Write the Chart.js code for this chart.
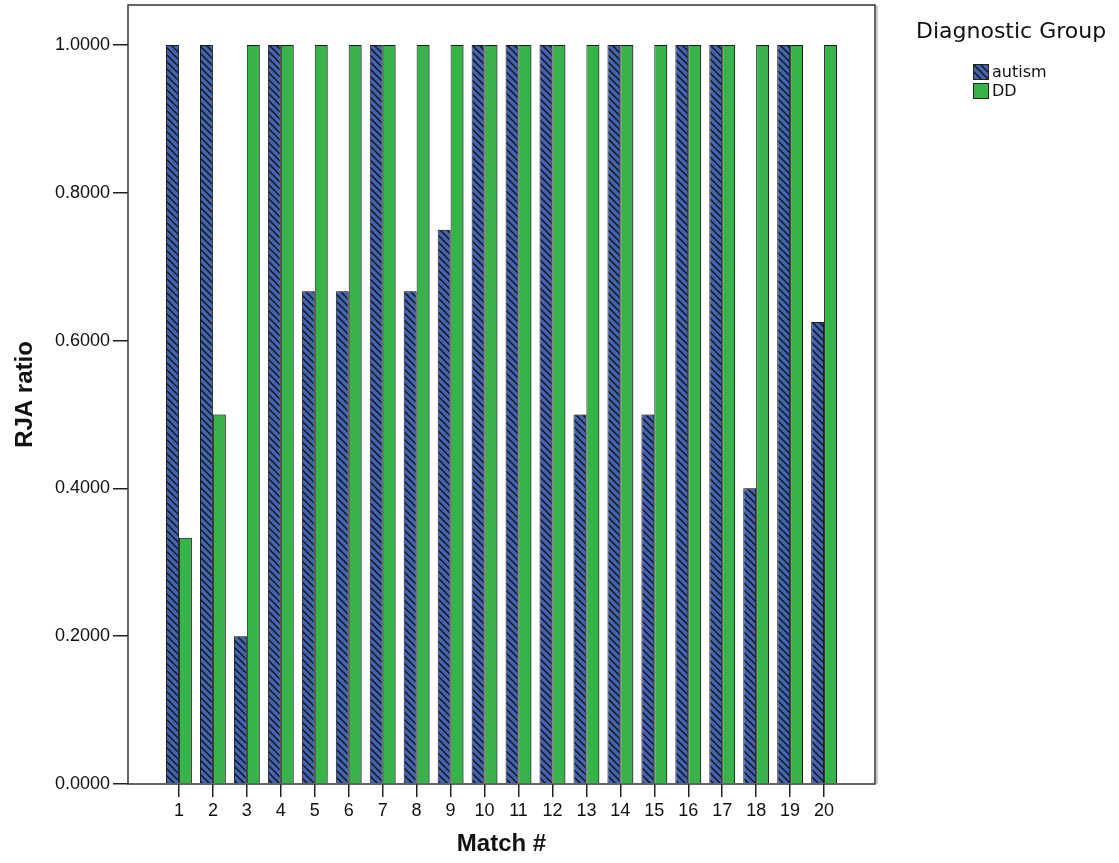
<!DOCTYPE html>
<html>
<head>
<meta charset="utf-8">
<script src="https://cdn.jsdelivr.net/npm/chart.js@4.4.1/dist/chart.umd.min.js"></script>
<style>
  html, body { margin: 0; padding: 0; background: #fff; }
  #wrap { position: relative; width: 1119px; height: 863px; }
  .legend { position: absolute; left: 916px; top: 17px; font-family: 'DejaVu Sans', sans-serif; color: #111; }
  .legend .title { font-size: 22px; line-height: 28px; white-space: nowrap; }
  .legend .item { position: absolute; left: 56px; font-size: 16px; line-height: 18px; white-space: nowrap; }
  .legend canvas { vertical-align: top; margin-right: 2px; }
</style>
</head>
<body>
<div id="wrap">
  <canvas id="chart" width="1119" height="863"></canvas>
  <div class="legend">
    <div class="title">Diagnostic Group</div>
    <div class="item" style="top:46px"><canvas id="sw1" width="18" height="18"></canvas>autism</div>
    <div class="item" style="top:65px"><canvas id="sw2" width="18" height="18"></canvas>DD</div>
  </div>
</div>
<script>
const matches = [1, 2, 3, 4, 5, 6, 7, 8, 9, 10, 11, 12, 13, 14, 15, 16, 17, 18, 19, 20]
const autism = [1, 1, 0.2, 1, 0.6667, 0.6667, 1, 0.6667, 0.75, 1, 1, 1, 0.5, 1, 0.5, 1, 1, 0.4, 1, 0.625]
const dd = [0.3333, 0.5, 1, 1, 1, 1, 1, 1, 1, 1, 1, 1, 1, 1, 1, 1, 1, 1, 1, 1]
const yTicks = [0, 0.2, 0.4, 0.6, 0.8, 1.0]

const blue = '#4264b4'
const green = '#36b44a'
const font = "'Liberation Sans', Arial, sans-serif"

// diagonal hatch for the autism bars
const makeHatch = (ctx) => {
  const c = document.createElement('canvas')
  c.width = 7; c.height = 7
  const g = c.getContext('2d')
  g.fillStyle = blue
  g.fillRect(0, 0, 7, 7)
  g.strokeStyle = '#151515'
  g.lineWidth = 1.5
  g.beginPath()
  g.moveTo(-1, -1); g.lineTo(8, 8)
  g.moveTo(-1, 6); g.lineTo(1, 8)
  g.moveTo(6, -1); g.lineTo(8, 1)
  g.stroke()
  return ctx.createPattern(c, 'repeat')
}

const ctx = document.getElementById('chart').getContext('2d')
const hatch = makeHatch(ctx)

// legend swatches
const sw = (id, fill) => {
  const g = document.getElementById(id).getContext('2d')
  g.fillStyle = fill
  g.fillRect(1, 1, 16, 16)
  g.strokeStyle = '#222'
  g.lineWidth = 1
  g.strokeRect(1.5, 1.5, 15, 15)
}
sw('sw1', makeHatch(document.getElementById('sw1').getContext('2d')))
sw('sw2', green)

const frame = {
  id: 'frame',
  beforeDatasetsDraw(chart) {
    const c = chart.ctx
    c.save()
    c.shadowColor = 'rgba(0,0,0,0.3)'
    c.shadowOffsetX = 2
    c.shadowOffsetY = 0
    c.shadowBlur = 0
  },
  afterDatasetsDraw(chart) {
    chart.ctx.restore()
  },
  afterDraw(chart) {
    const a = chart.chartArea
    const c = chart.ctx
    c.save()
    c.strokeStyle = '#bbb'
    c.lineWidth = 1.5
    c.beginPath()
    c.moveTo(a.right + 2, a.top + 1); c.lineTo(a.right + 2, a.bottom)
    c.stroke()
    c.strokeStyle = '#333'
    c.lineWidth = 1.5
    c.strokeRect(a.left, a.top, a.right - a.left, a.bottom - a.top)
    c.restore()
  }
}

const chart = new Chart(ctx, {
  type: 'bar',
  data: {
    datasets: [{
      label: 'autism',
      data: matches.map((m, i) => ({ x: m, y: autism[i] })),
      backgroundColor: hatch,
      borderColor: '#1a1a1a',
      borderWidth: 1
    }, {
      label: 'DD',
      data: matches.map((m, i) => ({ x: m, y: dd[i] })),
      backgroundColor: green,
      borderColor: '#1a1a1a',
      borderWidth: 1
    }]
  },
  options: {
    responsive: false,
    animation: false,
    layout: { padding: { top: 5, right: 244, left: 0, bottom: 0 } },
    datasets: { bar: { categoryPercentage: 0.76, barPercentage: 1 } },
    plugins: { legend: { display: false }, tooltip: { enabled: false } },
    scales: {
      x: {
        type: 'linear',
        min: -0.5,
        max: 21.5,
        offset: false,
        afterBuildTicks: (s) => { s.ticks = matches.map(v => ({ value: v })) },
        afterFit: (s) => { s.height = 79; s.paddingLeft = 0; s.paddingRight = 0 },
        grid: { offset: false, drawOnChartArea: false, drawTicks: true, tickLength: 13, color: '#222', lineWidth: 1.5 },
        border: { display: false },
        ticks: { color: '#111', font: { family: font, size: 18 }, padding: 3, maxRotation: 0, autoSkip: false },
        title: { display: true, text: 'Match #', color: '#111', font: { family: font, size: 24, weight: 'bold' }, padding: 4 }
      },
      y: {
        min: 0,
        max: 1.054,
        afterBuildTicks: (s) => { s.ticks = yTicks.map(v => ({ value: v })) },
        afterFit: (s) => { s.width = 128; s.paddingTop = 0; s.paddingBottom = 0 },
        grid: { drawOnChartArea: false, drawTicks: true, tickLength: 15, color: '#222', lineWidth: 1.5 },
        border: { display: false },
        ticks: { color: '#111', font: { family: font, size: 18 }, padding: 3, callback: (v) => Number(v).toFixed(4) },
        title: { display: true, text: 'RJA ratio', color: '#111', font: { family: font, size: 24, weight: 'bold' }, padding: 11 }
      }
    }
  },
  plugins: [frame]
})
</script>
</body>
</html>
